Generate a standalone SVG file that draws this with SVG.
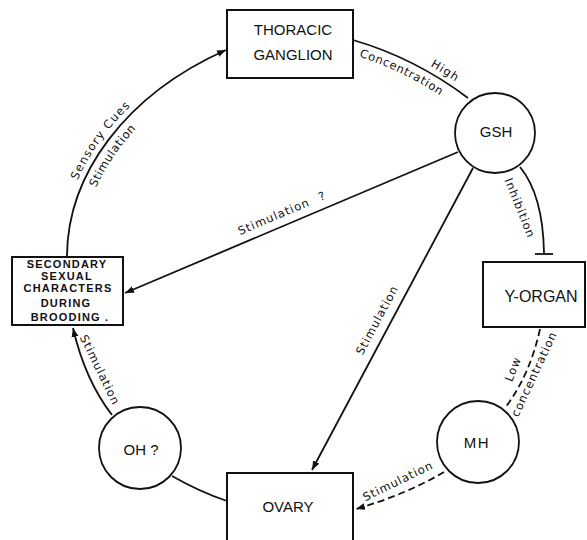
<svg xmlns="http://www.w3.org/2000/svg" xmlns:xlink="http://www.w3.org/1999/xlink" width="587" height="540" viewBox="0 0 587 540">
<style>
.box{fill:#fff;stroke:#111;stroke-width:2}
.node{fill:#fff;stroke:#111;stroke-width:1.8}
.t{font-family:"Liberation Sans",Arial,sans-serif;font-size:15px;fill:#111;text-anchor:middle}
.ts{font-family:"Liberation Sans",Arial,sans-serif;font-size:11px;font-weight:bold;fill:#111;text-anchor:middle;letter-spacing:1.2px}
.c{fill:none;stroke:#111;stroke-width:1.8}
.d{stroke-dasharray:7,4}
.l{font-family:"DejaVu Sans",sans-serif;font-size:11.5px;fill:#111;text-anchor:middle;letter-spacing:1px}
</style>
<defs>
<marker id="ah" markerUnits="userSpaceOnUse" markerWidth="10" markerHeight="8" refX="9" refY="4" orient="auto">
<path d="M0,0.5 L9,4 L0,7.5 z" fill="#111"/>
</marker>
</defs>
<rect width="587" height="540" fill="#fff"/>
<g id="connectors">
<path id="p-sec-thor" class="c" d="M67,257 C67,175 125,95 226,50" marker-end="url(#ah)"/>
<path id="p-thor-gsh" class="c" d="M353,40 Q415,58 468,98"/>
<path class="c" d="M458,152 L125,293" marker-end="url(#ah)"/>
<path class="c" d="M473,168 L312,470" marker-end="url(#ah)"/>
<path class="c" d="M520,167 Q543,195 544,253"/>
<path class="c" d="M535,254 L553,254"/>
<path class="c d" d="M540,329 Q530,375 505,408"/>
<path class="c d" d="M444,472 Q405,495 356,509" marker-end="url(#ah)"/>
<path class="c" d="M172,476 Q200,492 227,501"/>
<path class="c" d="M112,415 Q85,380 73,328" marker-end="url(#ah)"/>
<text class="l" dy="-6"><textPath href="#p-sec-thor" xlink:href="#p-sec-thor" startOffset="44%">Sensory  Cues</textPath></text>
<text class="l" dy="14"><textPath href="#p-sec-thor" xlink:href="#p-sec-thor" startOffset="42%">Stimulation</textPath></text>
<text class="l" dy="-6"><textPath href="#p-thor-gsh" xlink:href="#p-thor-gsh" startOffset="74%">High</textPath></text>
<text class="l" dy="14"><textPath href="#p-thor-gsh" xlink:href="#p-thor-gsh" startOffset="45%">Concentration</textPath></text>
<text class="l" transform="translate(282,213) rotate(-23)" y="4">Stimulation <tspan dx="6">?</tspan></text>
<text class="l" transform="translate(377,320) rotate(-62)" y="4">Stimulation</text>
<text class="l" transform="translate(520,208) rotate(68)" y="4">Inhibition</text>
<text class="l" transform="translate(513,369) rotate(-68)" y="4">Low</text>
<text class="l" transform="translate(534,374) rotate(-65)" y="4">concentration</text>
<text class="l" transform="translate(398,481) rotate(-26)" y="4">Stimulation</text>
<text class="l" transform="translate(100,370) rotate(64)" y="4">Stimulation</text>
</g>
<g id="thoracic">
<rect class="box" x="227" y="10" width="126" height="68"/>
<text class="t" x="293" y="35">THORACIC</text>
<text class="t" x="293" y="60">GANGLION</text>
</g>
<g id="gsh">
<circle class="node" cx="495" cy="133" r="40"/>
<text class="t" x="496" y="137">GSH</text>
</g>
<g id="yorgan">
<rect class="box" x="483" y="262" width="102" height="65"/>
<text class="t" x="541" y="302" style="font-size:16px">Y-ORGAN</text>
</g>
<g id="mh">
<circle class="node" cx="478" cy="442" r="41"/>
<text class="t" x="477" y="448" style="letter-spacing:1.5px">MH</text>
</g>
<g id="oh">
<circle class="node" cx="140" cy="448" r="41"/>
<text class="t" x="141" y="455">OH ?</text>
</g>
<g id="ovary">
<rect class="box" x="227" y="473" width="126" height="70"/>
<text class="t" x="288" y="512">OVARY</text>
</g>
<g id="secondary">
<rect class="box" x="12" y="257" width="111" height="68"/>
<text class="ts" x="67" y="268">SECONDARY</text>
<text class="ts" x="67" y="280">SEXUAL</text>
<text class="ts" x="68" y="292">CHARACTERS</text>
<text class="ts" x="66" y="307">DURING</text>
<text class="ts" x="70" y="321">BROODING .</text>
</g>
</svg>
